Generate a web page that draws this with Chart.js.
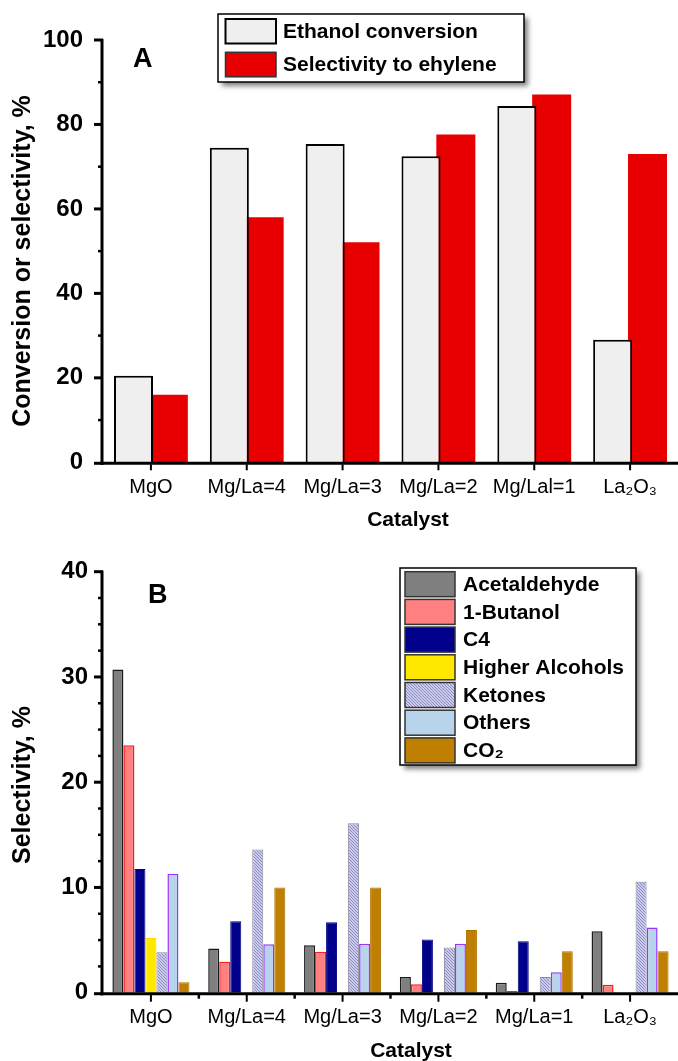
<!DOCTYPE html>
<html><head><meta charset="utf-8">
<script src="https://cdn.jsdelivr.net/npm/chart.js@4"></script>
<style>
html,body{margin:0;padding:0;background:#fff;width:678px;height:1061px;overflow:hidden}
.box{position:absolute;left:0;width:678px}
#wa{top:0;height:540px}
#wb{top:540px;height:521px}
canvas{display:block}
</style></head><body>
<div class="box" id="wa"><canvas id="ca" width="678" height="540"></canvas></div>
<div class="box" id="wb"><canvas id="cb" width="678" height="521"></canvas></div>
<script>
// ---------- data ----------
const catalystsA = ['MgO', 'Mg/La=4', 'Mg/La=3', 'Mg/La=2', 'Mg/Lal=1', 'La₂O₃'];
const catalystsB = ['MgO', 'Mg/La=4', 'Mg/La=3', 'Mg/La=2', 'Mg/La=1', 'La₂O₃'];
const ethanolConversion   = [20.5, 74.5, 75.4, 72.5, 84.4, 29.0];
const ethyleneSelectivity = [16.0, 58.0, 52.1, 77.6, 87.1, 73.0];
const acetaldehyde   = [30.7, 4.2, 4.5, 1.5, 0.95, 5.85];
const butanol        = [23.5, 2.95, 3.9, 0.8, 0.15, 0.75];
const c4             = [11.75, 6.8, 6.7, 5.05, 4.9, 0];
const higherAlcohols = [5.2, 0, 0, 0, 0, 0];
const ketones        = [3.85, 13.6, 16.1, 4.3, 1.5, 10.55];
const others         = [11.3, 4.6, 4.65, 4.65, 1.95, 6.2];
const co2            = [1.0, 10.0, 10.0, 5.95, 3.95, 3.95];
const yTicksA = [0, 20, 40, 60, 80, 100];
const yTicksB = [0, 10, 20, 30, 40];

const FAM = '"Liberation Sans", Arial, Helvetica, sans-serif';

function hatchPattern() {
  const c = document.createElement('canvas'); c.width = 3; c.height = 3;
  const g = c.getContext('2d');
  g.fillStyle = '#cacaea'; g.fillRect(0, 0, 3, 3);
  g.fillStyle = '#8e8ec4';
  g.fillRect(0, 0, 1, 1); g.fillRect(1, 1, 1, 1); g.fillRect(2, 2, 1, 1);
  return g.createPattern(c, 'repeat');
}
const KET = hatchPattern();

const decor = {
  id: 'decor',
  afterDraw(chart, args, o) {
    const {ctx, chartArea: ca} = chart;
    const xs = chart.scales.x, ys = chart.scales.y;
    ctx.save();
    ctx.strokeStyle = '#000'; ctx.lineCap = 'butt';
    // y ticks
    for (let v = ys.min; v <= ys.max + 1e-9; v += o.yMinor) {
      const py = ys.getPixelForValue(v);
      const r = v / o.yMajor;
      const major = Math.abs(r - Math.round(r)) < 1e-6;
      ctx.lineWidth = major ? 3 : 2.5;
      const len = major ? 9 : 5;
      ctx.beginPath(); ctx.moveTo(ca.left - len, py + (v === 0 ? 1 : 0)); ctx.lineTo(ca.left, py + (v === 0 ? 1 : 0)); ctx.stroke();
    }
    // axis lines
    ctx.lineWidth = 3;
    ctx.beginPath(); ctx.moveTo(ca.left - 1, ca.top - 1); ctx.lineTo(ca.left - 1, ca.bottom + 2.5); ctx.stroke();
    ctx.beginPath(); ctx.moveTo(ca.left - 2.5, ca.bottom + 1); ctx.lineTo(ca.right, ca.bottom + 1); ctx.stroke();
    // x ticks
    const n = chart.data.labels.length;
    ctx.lineWidth = 2;
    for (let i = 0; i < n; i++) {
      const px = xs.getPixelForValue(i);
      ctx.beginPath(); ctx.moveTo(px, ca.bottom + 2); ctx.lineTo(px, ca.bottom + 2 + o.xTickLen); ctx.stroke();
    }
    if (o.boundaryTicks) {
      ctx.lineWidth = 2.5;
      for (let i = 1; i < n; i++) {
        const px = (xs.getPixelForValue(i - 1) + xs.getPixelForValue(i)) / 2;
        ctx.beginPath(); ctx.moveTo(px, ca.bottom + 2); ctx.lineTo(px, ca.bottom + 6); ctx.stroke();
      }
    }
    // titles
    ctx.fillStyle = '#000';
    ctx.font = 'bold 21px ' + FAM;
    ctx.textAlign = 'center'; ctx.textBaseline = 'middle';
    ctx.fillText(o.xTitle.text, o.xTitle.x, o.xTitle.y);
    ctx.save();
    ctx.font = 'bold ' + o.yTitle.size + 'px ' + FAM;
    ctx.translate(o.yTitle.x, o.yTitle.y); ctx.rotate(-Math.PI / 2);
    ctx.fillText(o.yTitle.text, 0, 0);
    ctx.restore();
    // panel letter
    ctx.font = 'bold 27px ' + FAM;
    ctx.textAlign = 'left'; ctx.textBaseline = 'alphabetic';
    ctx.fillText(o.letter.text, o.letter.x, o.letter.y);
    // legend
    const L = o.legend;
    ctx.save();
    ctx.shadowColor = 'rgba(0,0,0,0.5)'; ctx.shadowBlur = 5; ctx.shadowOffsetX = 4; ctx.shadowOffsetY = 4;
    ctx.fillStyle = '#fff'; ctx.fillRect(L.x, L.y, L.w, L.h);
    ctx.restore();
    ctx.lineWidth = 1.5; ctx.strokeStyle = '#000';
    ctx.strokeRect(L.x, L.y, L.w, L.h);
    ctx.font = 'bold 21px ' + FAM;
    ctx.textBaseline = 'middle';
    chart.data.datasets.forEach((ds, i) => {
      const top = L.sy + i * L.rowH;
      ctx.fillStyle = ds.legendColor || ds.backgroundColor;
      ctx.fillRect(L.sx, top, L.sw, L.sh);
      ctx.strokeStyle = ds.legendBorder || '#333';
      ctx.lineWidth = ds.legendBorderWidth || 1.5;
      ctx.strokeRect(L.sx, top, L.sw, L.sh);
      ctx.fillStyle = '#000';
      ctx.fillText(ds.label, L.tx, top + L.sh / 2 + 1);
    });
    ctx.restore();
  }
};

function baseScales(labels, yTicks, yPad, xAxisH) {
  return {
    x: {
      offset: true,
      grid: {display: false, drawTicks: false},
      border: {display: false},
      ticks: {font: {family: FAM, size: 20}, color: '#000', padding: 13, maxRotation: 0, autoSkip: false},
      afterFit: s => { s.height = xAxisH; }
    },
    y: {
      min: yTicks[0], max: yTicks[yTicks.length - 1],
      grid: {display: false, drawTicks: false},
      border: {display: false},
      ticks: {font: {family: FAM, size: 24, weight: 'bold'}, color: '#000', padding: yPad},
      afterBuildTicks: s => { s.ticks = yTicks.map(v => ({value: v})); },
      afterFit: s => { s.width = 103; }
    }
  };
}

// ---------- Chart A ----------
new Chart(document.getElementById('ca'), {
  type: 'bar',
  data: {
    labels: catalystsA,
    datasets: [
      {label: 'Ethanol conversion', data: ethanolConversion, backgroundColor: '#efefef', borderColor: '#000', borderWidth: 2,
       borderSkipped: 'bottom', categoryPercentage: 0.727, barPercentage: 1.12, legendBorder: '#000', legendBorderWidth: 2},
      {label: 'Selectivity to ehylene', data: ethyleneSelectivity, backgroundColor: '#e80000', borderWidth: 0,
       categoryPercentage: 0.727, barPercentage: 1.12}
    ]
  },
  options: {
    responsive: false, animation: false, devicePixelRatio: 1,
    layout: {padding: {top: 40, left: 0, right: 0, bottom: 0}},
    plugins: {
      legend: {display: false}, tooltip: {enabled: false},
      decor: {
        yMinor: 10, yMajor: 20, xTickLen: 6, boundaryTicks: false,
        xTitle: {text: 'Catalyst', x: 408, y: 520},
        yTitle: {text: 'Conversion or selectivity, %', x: 23, y: 261, size: 25},
        letter: {text: 'A', x: 133, y: 67},
        legend: {x: 218, y: 14, w: 306, h: 68, sx: 225.5, sy: 19, sw: 50.5, sh: 24.5, rowH: 33.3, tx: 283}
      }
    },
    scales: baseScales(catalystsA, yTicksA, 20, 77.7)
  },
  plugins: [decor]
});

// ---------- Chart B ----------
const bw = w => (c => (c.raw > 0 ? w : 0));
const bOpts = {categoryPercentage: 0.804, barPercentage: 1.0, borderSkipped: 'bottom'};
new Chart(document.getElementById('cb'), {
  type: 'bar',
  data: {
    labels: catalystsB,
    datasets: [
      Object.assign({label: 'Acetaldehyde', data: acetaldehyde, backgroundColor: '#7f7f7f', borderColor: '#1a1a1a', borderWidth: bw(1.5)}, bOpts),
      Object.assign({label: '1-Butanol', data: butanol, backgroundColor: '#ff8080', borderColor: '#ff1a1a', borderWidth: bw(1.5)}, bOpts),
      Object.assign({label: 'C4', data: c4, backgroundColor: '#00008b', borderColor: '#000080', borderWidth: bw(1)}, bOpts),
      Object.assign({label: 'Higher Alcohols', data: higherAlcohols, backgroundColor: '#ffe800', borderColor: '#ffd800', borderWidth: bw(1)}, bOpts),
      Object.assign({label: 'Ketones', data: ketones, backgroundColor: KET, borderColor: '#8a8aa0', borderWidth: bw(1)}, bOpts),
      Object.assign({label: 'Others', data: others, backgroundColor: '#b8d4ec', borderColor: '#9933ff', borderWidth: bw(1.5)}, bOpts),
      Object.assign({label: 'CO₂', data: co2, backgroundColor: '#bf7f00', borderColor: '#b07000', borderWidth: bw(1)}, bOpts)
    ]
  },
  options: {
    responsive: false, animation: false, devicePixelRatio: 1,
    layout: {padding: {top: 31.7, left: 0, right: 0, bottom: 0}},
    plugins: {
      legend: {display: false}, tooltip: {enabled: false},
      decor: {
        yMinor: 2.5, yMajor: 10, xTickLen: 7, boundaryTicks: true,
        xTitle: {text: 'Catalyst', x: 411, y: 511},
        yTitle: {text: 'Selectivity, %', x: 23, y: 245, size: 25},
        letter: {text: 'B', x: 148, y: 63},
        legend: {x: 400, y: 28, w: 236, h: 197, sx: 405, sy: 31.7, sw: 50, sh: 25, rowH: 27.7, tx: 463}
      }
    },
    scales: baseScales(catalystsB, yTicksB, 15, 68.3)
  },
  plugins: [decor]
});
</script>
</body></html>
